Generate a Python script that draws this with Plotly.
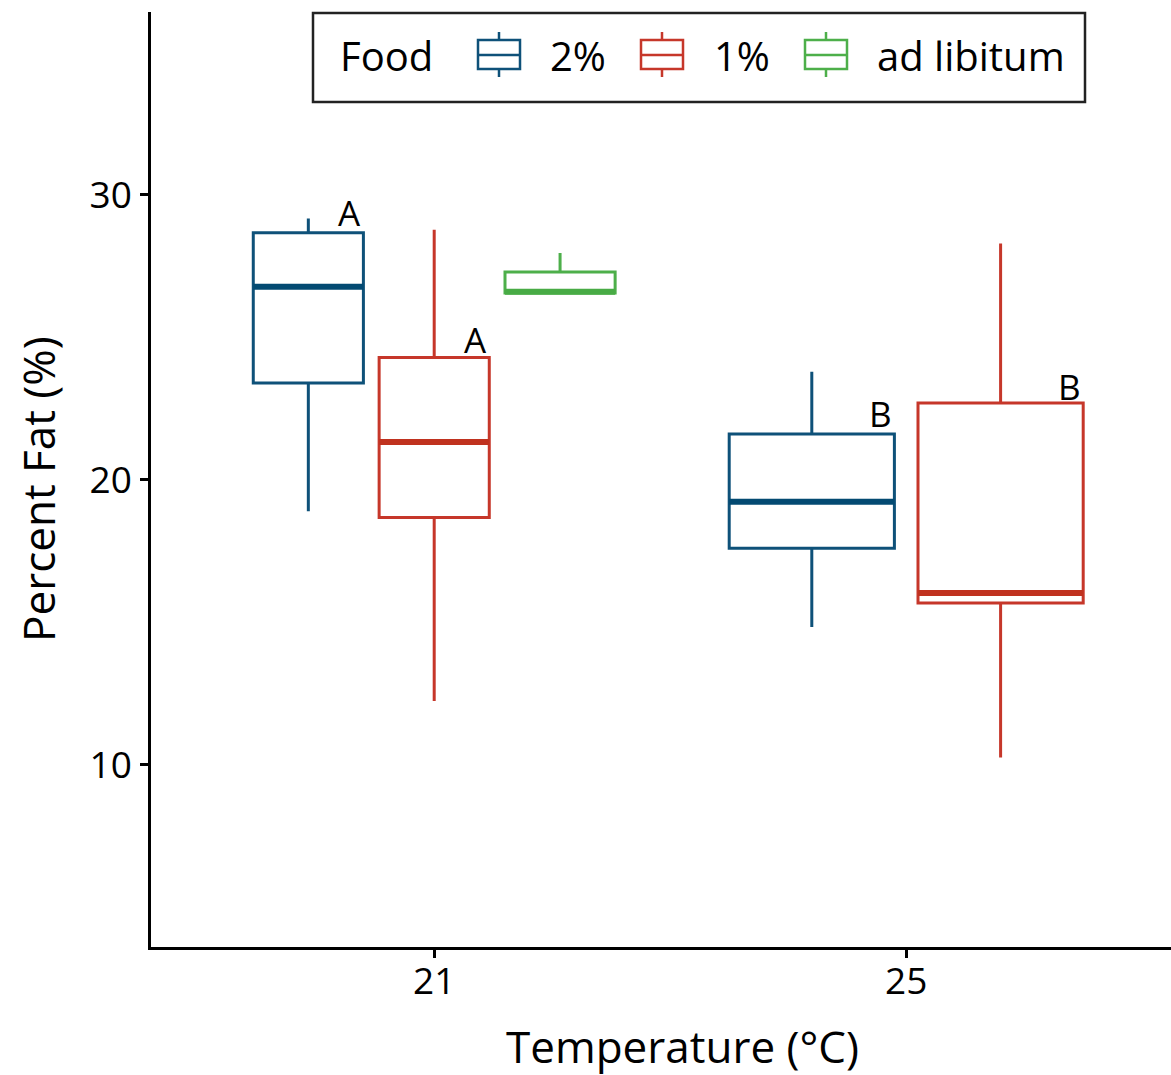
import plotly.graph_objects as go

# ---- data ----
temperatures = ["21", "25"]
food_levels = ["2%", "1%", "ad libitum"]
colors = {"2%": "#0E5179", "1%": "#C6372A", "ad libitum": "#4DAF4A"}
median_colors = {"2%": "#034A72", "1%": "#C0321F", "ad libitum": "#48AB45"}

# per food level: values per temperature (None = group absent)
q1 = {"2%": [23.4, 17.6], "1%": [18.68, 15.68], "ad libitum": [26.56, None]}
median = {"2%": [26.78, 19.23], "1%": [21.33, 16.03], "ad libitum": [26.6, None]}
q3 = {"2%": [28.67, 21.61], "1%": [24.3, 22.7], "ad libitum": [27.3, None]}
lower = {"2%": [18.9, 14.84], "1%": [12.24, 10.26], "ad libitum": [26.56, None]}
upper = {"2%": [29.17, 23.8], "1%": [28.78, 28.3], "ad libitum": [27.96, None]}

# significance letters (label, y value) per food level/temperature
letters = {"2%": [("A", 29.37), ("B", 22.33)],
           "1%": [("A", 24.92), ("B", 23.27)],
           "ad libitum": [None, None]}

# ---- geometry / style ----
W, H = 1171, 1075
ML, MR, MT, MB = 151, 0, 12, 128
PW, PH = W - ML - MR, H - MT - MB
DODGE = 0.8
BOXW = 0.7
FONT = "Open Sans, Noto Sans, sans-serif"


def px(xp):
    return (xp - ML) / PW


def py(yp):
    return (H - MB - yp) / PH


def positions(ti):
    present = [f for f in food_levels if median[f][ti] is not None]
    n = len(present)
    out = {}
    for k, f in enumerate(present):
        centre = (ti + 1) - DODGE / 2 + DODGE / n * (k + 0.5)
        out[f] = (centre, BOXW / n)
    return out


fig = go.Figure()
annotations = []
for f in food_levels:
    for ti in range(len(temperatures)):
        pos = positions(ti)
        if f not in pos:
            continue
        x, w = pos[f]
        fig.add_trace(go.Box(
            x=[x], q1=[q1[f][ti]], median=[median[f][ti]], q3=[q3[f][ti]],
            lowerfence=[lower[f][ti]], upperfence=[upper[f][ti]],
            width=w, whiskerwidth=0, fillcolor="white",
            line=dict(color=colors[f], width=3),
            name=f, legendgroup=f, showlegend=False, boxpoints=False,
            hoverinfo="skip",
        ))
        fig.add_trace(go.Scatter(
            x=[x - w / 2, x + w / 2], y=[median[f][ti]] * 2, mode="lines",
            line=dict(color=median_colors[f], width=6),
            showlegend=False, legendgroup=f, hoverinfo="skip",
        ))
        lab = letters[f][ti]
        if lab is not None:
            annotations.append(dict(
                x=x + w / 2, y=lab[1], xref="x", yref="y", text=lab[0],
                showarrow=False, xanchor="right", yanchor="middle",
                font=dict(size=35, color="black"),
            ))

# ---- legend (ggplot style, drawn with shapes + text) ----
shapes = [dict(type="rect", xref="paper", yref="paper",
               x0=px(313), x1=px(1085), y0=py(102), y1=py(13),
               line=dict(color="#222", width=2.5), fillcolor="rgba(0,0,0,0)",
               layer="above")]
annotations.append(dict(x=px(338), y=py(55), xref="paper", yref="paper",
                        text="Food", showarrow=False, xanchor="left",
                        yanchor="middle", font=dict(size=40, color="black")))
legend_icon_centres = [499, 662, 826]
legend_text_left = [548, 712, 875]
for f, cx, tx in zip(food_levels, legend_icon_centres, legend_text_left):
    c = colors[f]
    shapes += [
        dict(type="rect", xref="paper", yref="paper", x0=px(cx - 21), x1=px(cx + 21),
             y0=py(69), y1=py(40), line=dict(color=c, width=2.5), fillcolor="white"),
        dict(type="line", xref="paper", yref="paper", x0=px(cx - 21), x1=px(cx + 21),
             y0=py(55), y1=py(55), line=dict(color=c, width=2.5)),
        dict(type="line", xref="paper", yref="paper", x0=px(cx), x1=px(cx),
             y0=py(40), y1=py(32), line=dict(color=c, width=2.5)),
        dict(type="line", xref="paper", yref="paper", x0=px(cx), x1=px(cx),
             y0=py(69), y1=py(77), line=dict(color=c, width=2.5)),
    ]
    annotations.append(dict(x=px(tx), y=py(55), xref="paper", yref="paper",
                            text=f, showarrow=False, xanchor="left",
                            yanchor="middle", font=dict(size=40, color="black")))

# axis titles
annotations.append(dict(x=px(682), y=py(1046), xref="paper", yref="paper",
                        text="Temperature (°C)", showarrow=False, xanchor="center",
                        yanchor="middle", font=dict(size=44, color="black")))
annotations.append(dict(x=px(38), y=py(489), xref="paper", yref="paper",
                        text="Percent Fat (%)", showarrow=False, xanchor="center",
                        yanchor="middle", textangle=-90,
                        font=dict(size=44, color="black")))

fig.update_layout(
    width=W, height=H,
    margin=dict(l=ML, r=MR, t=MT, b=MB),
    plot_bgcolor="white", paper_bgcolor="white",
    font=dict(family=FONT, color="black"),
    showlegend=False,
    annotations=annotations,
    shapes=shapes,
)
fig.update_xaxes(
    range=[0.4, 0.4 + PW / 472], tickvals=[1, 2], ticktext=temperatures,
    showgrid=False, zeroline=False, showline=True, linecolor="black", linewidth=2.5,
    ticks="outside", ticklen=8, tickwidth=2.5, tickcolor="black",
    tickfont=dict(size=37), ticklabelstandoff=-8,
)
fig.update_yaxes(
    range=[3.61, 36.42], tickvals=[10, 20, 30],
    showgrid=False, zeroline=False, showline=True, linecolor="black", linewidth=2.5,
    ticks="outside", ticklen=8, tickwidth=2.5, tickcolor="black",
    tickfont=dict(size=37), ticklabelstandoff=1,
)
fig.write_html("out.html")
